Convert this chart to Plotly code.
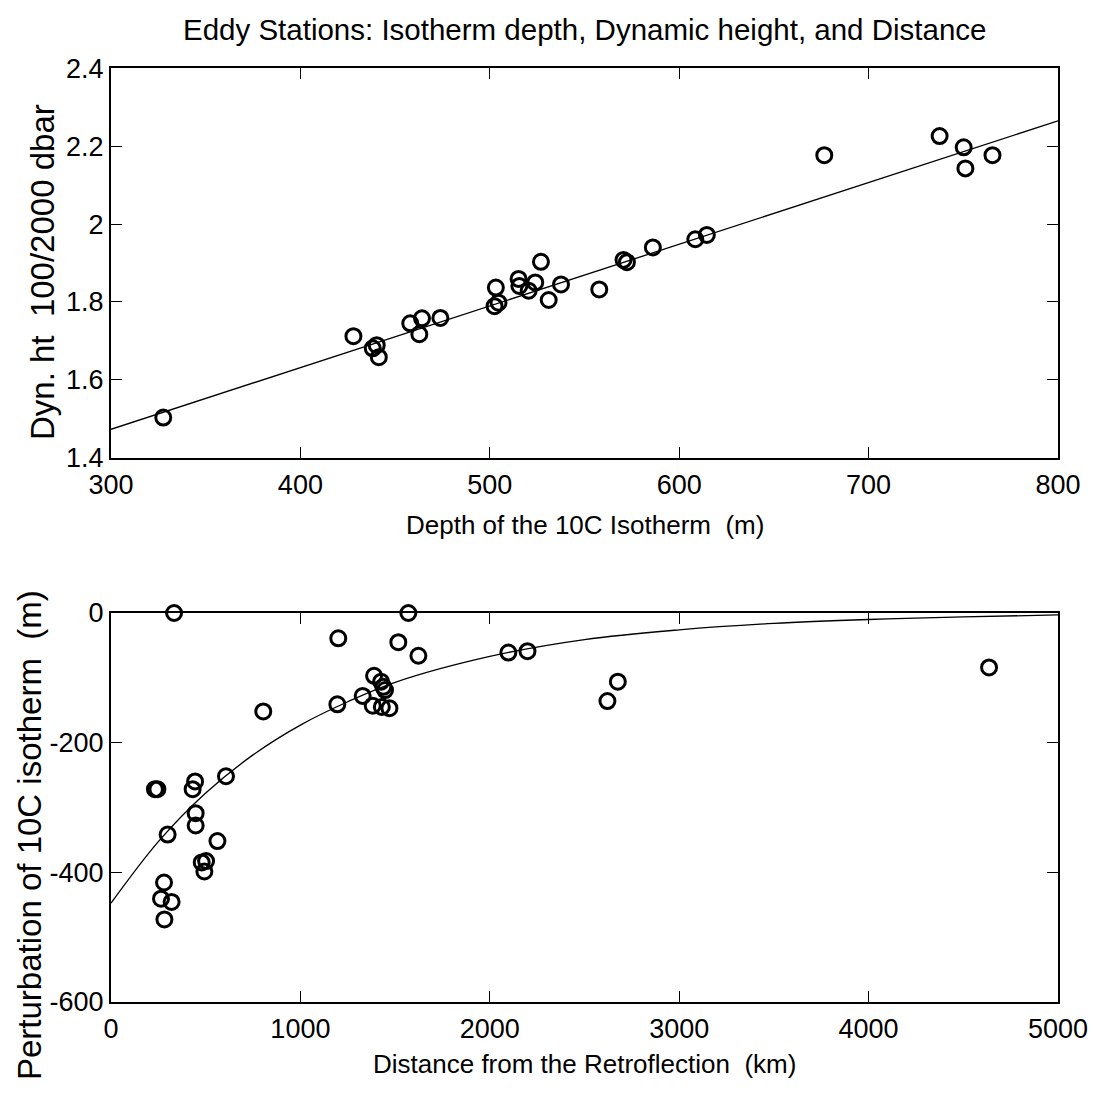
import plotly.graph_objects as go

# ---------------- data ----------------
# Top panel: depth of 10C isotherm (m) vs dynamic height (dyn m)
depth_10c = [327.6, 428.0, 438.2, 440.3, 441.4, 458.0, 464.2, 462.8, 473.9,
             503.2, 502.5, 504.6, 515.2, 515.6, 520.5, 524.0, 527.0, 531.1,
             537.6, 557.8, 570.6, 572.4, 586.1, 608.5, 614.6, 676.6, 737.5,
             750.2, 751.1, 765.4]
dyn_height = [1.503, 1.712, 1.681, 1.689, 1.658, 1.745, 1.758, 1.717, 1.759,
              1.837, 1.789, 1.798, 1.859, 1.841, 1.829, 1.850, 1.903, 1.805,
              1.845, 1.832, 1.908, 1.902, 1.940, 1.961, 1.972, 2.177, 2.226,
              2.197, 2.143, 2.177]
fit_depth = [300, 800]
fit_dyn = [1.473, 2.265]

# Bottom panel: distance from retroflection (km) vs perturbation (m)
distance_km = [333, 1570, 1200, 1517, 1623, 2098, 2199, 1389, 1426, 1438,
               1447, 1329, 1195, 1382, 1430, 1470, 804, 607, 232, 245, 444,
               431, 447, 447, 562, 299, 502, 479, 493, 280, 264, 320, 282,
               4636, 2676, 2621]
perturbation = [0, 0, -39, -45, -66, -61, -59, -97, -106, -114, -119, -128,
                -141, -143, -145, -147, -152, -252, -272, -272, -260, -272,
                -309, -328, -352, -342, -383, -385, -399, -416, -441, -446,
                -473, -84, -106, -136]
curve_km = [0, 250, 500, 750, 1000, 1250, 1500, 2000, 2500, 3000, 3500,
            4000, 4500, 5000]
curve_pert = [-448, -353, -278, -219, -173, -137, -107, -67, -41, -26, -16,
              -10, -6, -3]

top_xticks = [300, 400, 500, 600, 700, 800]
top_yticks = [1.4, 1.6, 1.8, 2.0, 2.2, 2.4]
top_yticktext = ["1.4", "1.6", "1.8", "2", "2.2", "2.4"]
bot_xticks = [0, 1000, 2000, 3000, 4000, 5000]
bot_yticks = [-600, -400, -200, 0]
bot_yticktext = ["-600", "-400", "-200", "0"]

# ---------------- figure ----------------
PAGE_W, PAGE_H = 1097, 1093
OFF = 8  # default body margin of the page
W, H = PAGE_W - 2 * OFF, PAGE_H - 2 * OFF
FONT = "Liberation Sans, Arial, Helvetica, sans-serif"


def fx(px):
    return (px - OFF) / W


def fy(py):
    return 1 - (py - OFF) / H


x_dom = [fx(111), fx(1058)]
top_dom = [fy(457.7), fy(68.3)]
bot_dom = [fy(1001.7), fy(613)]

fig = go.Figure()

marker = dict(symbol="circle-open", size=15, color="black",
              line=dict(width=3, color="black"))

fig.add_trace(go.Scatter(x=fit_depth, y=fit_dyn, mode="lines",
                         line=dict(color="black", width=1.3),
                         xaxis="x", yaxis="y", showlegend=False))
fig.add_trace(go.Scatter(x=depth_10c, y=dyn_height, mode="markers",
                         marker=marker, xaxis="x", yaxis="y",
                         showlegend=False, cliponaxis=False))

fig.add_trace(go.Scatter(x=curve_km, y=curve_pert, mode="lines",
                         line=dict(color="black", width=1.3, shape="spline"),
                         xaxis="x2", yaxis="y2", showlegend=False))
fig.add_trace(go.Scatter(x=distance_km, y=perturbation, mode="markers",
                         marker=marker, xaxis="x2", yaxis="y2",
                         showlegend=False, cliponaxis=False))

axis_common = dict(showline=True, linecolor="black", linewidth=2,
                   mirror="ticks", ticks="inside", ticklen=11, tickwidth=1,
                   tickcolor="black", showgrid=False, zeroline=False,
                   automargin=False,
                   tickfont=dict(family=FONT, size=27, color="black"))

fig.update_layout(
    width=W, height=H,
    margin=dict(l=0, r=0, t=0, b=0),
    paper_bgcolor="white", plot_bgcolor="white",
    xaxis=dict(domain=x_dom, range=[300, 800], tickvals=top_xticks,
               anchor="y", ticklabelstandoff=2, **axis_common),
    yaxis=dict(domain=top_dom, range=[1.4, 2.4], tickvals=top_yticks,
               ticktext=top_yticktext, anchor="x", ticklabelstandoff=0,
               **axis_common),
    xaxis2=dict(domain=x_dom, range=[0, 5000], tickvals=bot_xticks,
                anchor="y2", ticklabelstandoff=2, **axis_common),
    yaxis2=dict(domain=bot_dom, range=[-600, 0], tickvals=bot_yticks,
                ticktext=bot_yticktext, anchor="x2", ticklabelstandoff=0,
                **axis_common),
)

xc = (x_dom[0] + x_dom[1]) / 2
fig.add_annotation(text="Eddy Stations: Isotherm depth, Dynamic height, and Distance",
                   x=xc, y=fy(30), xref="paper", yref="paper",
                   showarrow=False, xanchor="center", yanchor="middle",
                   font=dict(family=FONT, size=29.5, color="black"))
fig.add_annotation(text="Depth of the 10C Isotherm  (m)",
                   x=xc, y=fy(525), xref="paper", yref="paper",
                   showarrow=False, xanchor="center", yanchor="middle",
                   font=dict(family=FONT, size=26, color="black"))
fig.add_annotation(text="Distance from the Retroflection  (km)",
                   x=xc, y=fy(1064), xref="paper", yref="paper",
                   showarrow=False, xanchor="center", yanchor="middle",
                   font=dict(family=FONT, size=26, color="black"))
fig.add_annotation(text="Dyn. ht  100/2000 dbar",
                   x=fx(43), y=fy(272), xref="paper", yref="paper",
                   textangle=-90,
                   showarrow=False, xanchor="center", yanchor="middle",
                   font=dict(family=FONT, size=33, color="black"))
fig.add_annotation(text="Perturbation of 10C isotherm  (m)",
                   x=fx(29), y=fy(835), xref="paper", yref="paper",
                   textangle=-90,
                   showarrow=False, xanchor="center", yanchor="middle",
                   font=dict(family=FONT, size=33, color="black"))

fig.write_html("out.html")
